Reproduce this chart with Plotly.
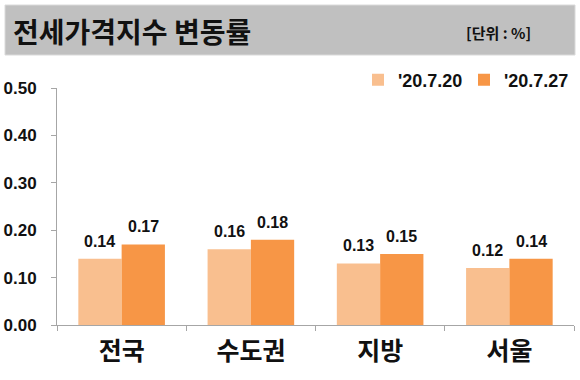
import plotly.graph_objects as go

categories = ["전국", "수도권", "지방", "서울"]
series_names = ["'20.7.20", "'20.7.27"]
values_0720 = [0.14, 0.16, 0.13, 0.12]
values_0727 = [0.17, 0.18, 0.15, 0.14]
y_ticks = [0.0, 0.1, 0.2, 0.3, 0.4, 0.5]

colors = ["#F9BF8F", "#F79646"]
num_font = "Liberation Sans, Arial, sans-serif"
kr_font = "Noto Sans CJK KR, sans-serif"

W, H = 580, 380
L, R, T, B = 57, 6, 88, 55
pw, ph = W - L - R, H - T - B
BARGAP = 0.33

def px_x(x):
    return (x - L) / pw

def px_y(y):
    return (H - B - y) / ph

fig = go.Figure()
for name, vals, col in zip(series_names, [values_0720, values_0727], colors):
    fig.add_trace(go.Bar(
        x=categories, y=vals, name=name,
        marker=dict(color=col, line=dict(width=0)),
        cliponaxis=False, hoverinfo="skip",
    ))

bw = (1 - BARGAP) / 2
offsets = [-bw / 2, bw / 2]
annotations = []
for vals, off in zip([values_0720, values_0727], offsets):
    for i, v in enumerate(vals):
        annotations.append(dict(
            x=i + off, y=v, xref="x", yref="y", text=f"{v:.2f}", showarrow=False,
            xanchor="center", yanchor="bottom", yshift=7,
            font=dict(family=num_font, size=16, color="#111", weight="bold")))

annotations += [
    dict(text="전세가격지수 변동률", xref="paper", yref="paper",
         x=px_x(11), y=px_y(31), xanchor="left", yanchor="middle", showarrow=False,
         font=dict(family=kr_font, size=28, color="#111", weight="bold")),
    dict(text="[단위 : %]", xref="paper", yref="paper",
         x=px_x(533), y=px_y(32), xanchor="right", yanchor="middle", showarrow=False,
         font=dict(family=kr_font, size=15, color="#111", weight="bold")),
]

fig.update_layout(
    width=W, height=H,
    margin=dict(l=L, r=R, t=T, b=B, pad=0, autoexpand=False),
    paper_bgcolor="white", plot_bgcolor="white",
    barmode="group", bargap=BARGAP, bargroupgap=0,
    showlegend=True,
    legend=dict(orientation="h", xref="container", yref="container",
                x=358 / W, y=1 - 80 / H, xanchor="left", yanchor="middle",
                font=dict(family=num_font, size=18, color="#111", weight="bold"),
                itemwidth=30, entrywidth=61, traceorder="normal", bgcolor="rgba(0,0,0,0)"),
    xaxis=dict(type="category", showline=True, linecolor="#A6A6A6", linewidth=1,
               ticks="outside", tickson="boundaries", ticklen=5, tickcolor="#A6A6A6",
               tickfont=dict(family=kr_font, size=25, color="#111", weight="bold"),
               ticklabelstandoff=4, showgrid=False, zeroline=False, automargin=False),
    yaxis=dict(range=[0, 0.5], tickvals=y_ticks, tickformat=".2f",
               showline=True, linecolor="#A6A6A6", linewidth=1,
               ticks="outside", ticklen=5, tickcolor="#A6A6A6",
               tickfont=dict(family=num_font, size=17, color="#111", weight="bold"),
               ticklabelstandoff=11, showgrid=False, zeroline=False, automargin=False),
    shapes=[dict(type="rect", xref="paper", yref="paper",
                 x0=px_x(5), x1=px_x(575), y0=px_y(55), y1=px_y(5),
                 fillcolor="#C0C0C0", line=dict(color="#DADADA", width=1), layer="below")],
    annotations=annotations,
)

fig.write_html("out.html", config={"displayModeBar": False},
               post_script="document.body.style.margin='0px';document.body.style.padding='0px';")
